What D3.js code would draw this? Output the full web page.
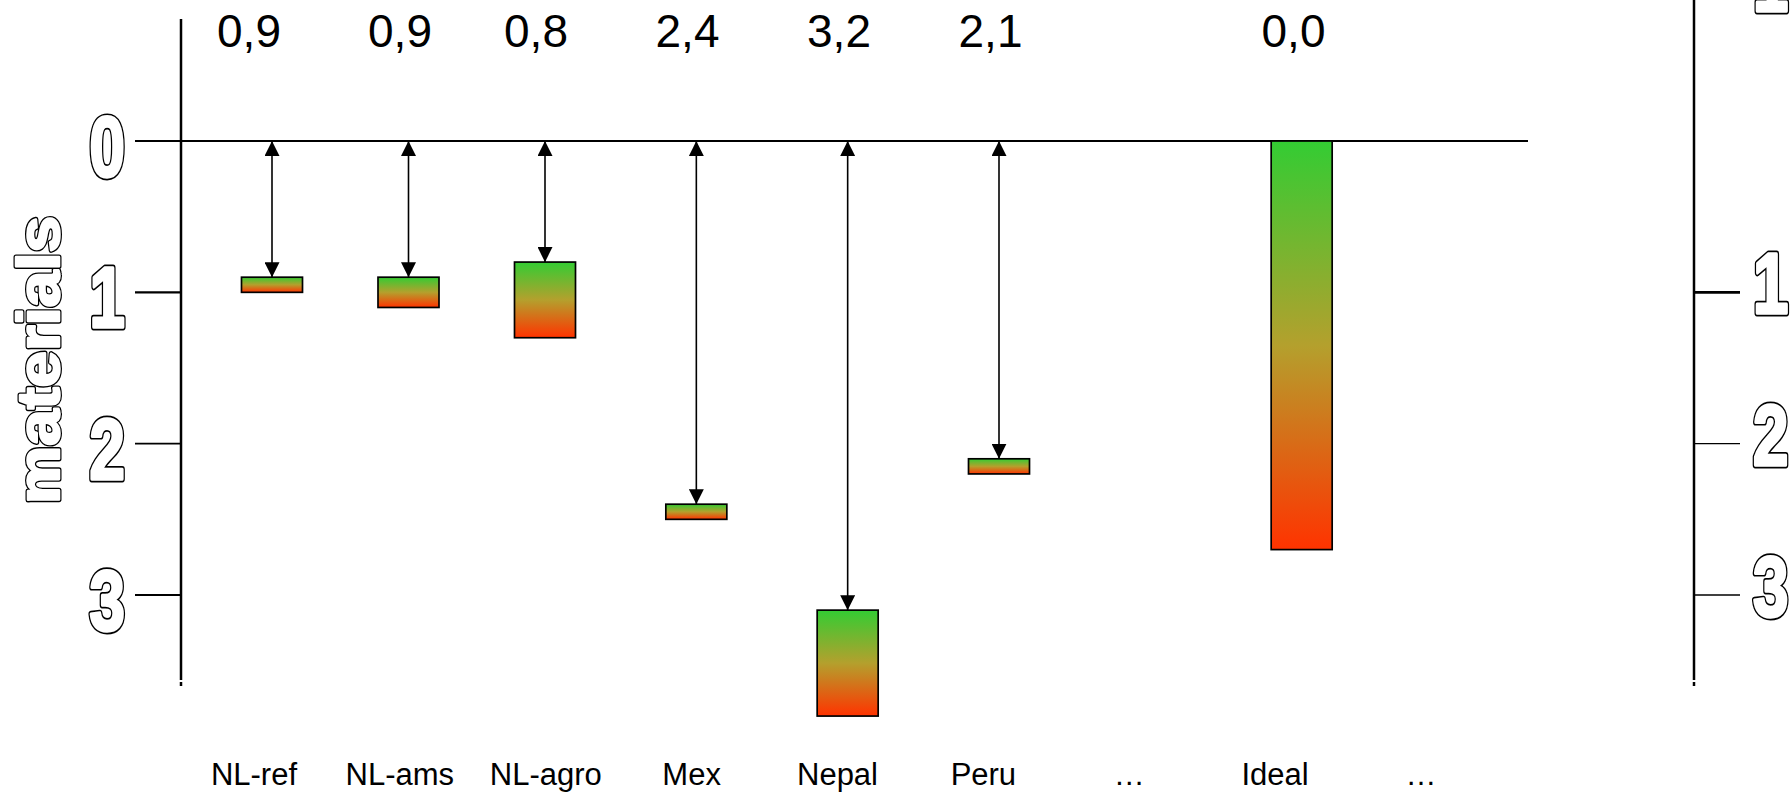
<!DOCTYPE html>
<html>
  <head>
    <style>
      body { margin: 0; background: #ffffff; }
      * { font-family: "Liberation Sans", Arial, sans-serif; }
    </style>
    <script src="https://d3js.org/d3.v7.min.js"></script>
  </head>
  <body>
    <div id="chart-div"></div>
    <script>
      // categories along the bottom; two "…" placeholders keep their own slot
      const categories = ["NL-ref", "NL-ams", "NL-agro", "Mex", "Nepal", "Peru", "…", "Ideal", "…"]
      // number printed above each column
      const scores    = [0.9, 0.9, 0.8, 2.4, 3.2, 2.1, null, 0.0, null]
      // bar range (top = where the arrow stops, bottom = end of the bar)
      const barTop    = [0.9, 0.9, 0.8, 2.4, 3.1, 2.1, null, 0.0, null]
      const barBottom = [1.0, 1.1, 1.3, 2.5, 3.8, 2.2, null, 2.7, null]

      const leftTicks = [0, 1, 2, 3]
      const leftTickLabels = ["0", "1", "2", "3"]
      const rightTicks = [-1, 1, 2, 3]
      const rightTickLabels = ["1", "1", "2", "3"]
      const axisTitle = "materials"

      var w = 1792, h = 795

      var svg = d3.select("#chart-div")
        .append("svg")
        .attr("width", w)
        .attr("height", h)
        .style("display", "block")

      // the three NL columns sit a bit closer together than the rest
      var x = d3.scaleLinear()
        .domain([0, 2, categories.length - 1])
        .range([272, 545, 1453])

      // numbers on top are not quite centred over the columns
      var xScore = d3.scaleLinear()
        .domain([0, 1, 2, categories.length - 1])
        .range([249, 400, 536, 1445])

      var xLabel = d3.scalePoint()
        .domain(d3.range(categories.length))
        .range([254, 1421])

      var y = d3.scaleLinear()
        .domain([0, 3])
        .range([141, 595])

      let barWidth = 61
      let leftAxisX = 181, rightAxisX = 1694, tickLen = 46

      // gradient green -> red, one per bar (bounding box units)
      var defs = svg.append("defs")
      var grad = defs.append("linearGradient")
        .attr("id", "greenRed")
        .attr("x1", 0).attr("y1", 0).attr("x2", 0).attr("y2", 1)
      grad.append("stop").attr("offset", "0%").attr("stop-color", "#33cc33")
      grad.append("stop").attr("offset", "50%").attr("stop-color", "#b4a02d")
      grad.append("stop").attr("offset", "100%").attr("stop-color", "#ff3300")

      defs.append("marker")
        .attr("id", "head")
        .attr("viewBox", "0 0 15 15")
        .attr("refX", 15).attr("refY", 7.5)
        .attr("markerWidth", 15).attr("markerHeight", 15)
        .attr("markerUnits", "userSpaceOnUse")
        .attr("orient", "auto-start-reverse")
        .append("path")
        .attr("d", "M0,0 L15,7.5 L0,15 Z")
        .style("fill", "#000")

      // outlined text: thick black stroke under a white stroke + white fill
      function outlined(g, txt, size, anchor, sx, blackW, whiteW, extra) {
        let t = g.append("g").attr("transform", "scale(" + sx + ",1)")
        ;[["#000", blackW], ["#fff", whiteW]].forEach(function(p) {
          let el = t.append("text")
            .text(txt)
            .attr("text-anchor", anchor)
            .style("font-size", size + "px")
            .style("font-weight", "bold")
            .style("fill", p[0])
            .style("stroke", p[0])
            .style("stroke-width", p[1])
            .style("stroke-linejoin", "round")
            .attr("vector-effect", "non-scaling-stroke")
          if (extra) extra(el)
        })
      }

      // axis lines (with the little stub under each)
      ;[leftAxisX, rightAxisX].forEach(function(ax) {
        svg.append("line")
          .attr("x1", ax).attr("x2", ax)
          .attr("y1", ax == leftAxisX ? 19 : 0).attr("y2", 680)
          .style("stroke", "#000").style("stroke-width", 2.5)
        svg.append("line")
          .attr("x1", ax).attr("x2", ax)
          .attr("y1", 682).attr("y2", 686)
          .style("stroke", "#000").style("stroke-width", 2.5)
      })

      // zero line
      svg.append("line")
        .attr("x1", leftAxisX - tickLen).attr("x2", 1528)
        .attr("y1", y(0)).attr("y2", y(0))
        .style("stroke", "#000").style("stroke-width", 2)

      // left ticks + labels
      leftTicks.forEach(function(v, i) {
        if (v != 0) {
          svg.append("line")
            .attr("x1", leftAxisX - tickLen).attr("x2", leftAxisX)
            .attr("y1", y(v)).attr("y2", y(v))
            .style("stroke", "#000").style("stroke-width", v == 1 ? 2.2 : 1.8)
        }
        let g = svg.append("g").attr("transform", "translate(125," + (y(v) + 35) + ")")
        outlined(g, leftTickLabels[i], 86, "end", 0.74, 6, 3)
      })

      // right ticks + labels
      rightTicks.forEach(function(v, i) {
        svg.append("line")
          .attr("x1", rightAxisX).attr("x2", rightAxisX + tickLen)
          .attr("y1", y(v)).attr("y2", y(v))
          .style("stroke", "#000").style("stroke-width", v == 1 ? 2.6 : 1.4)
        let g = svg.append("g").attr("transform", "translate(1753," + (y(v) + 21) + ")")
        outlined(g, rightTickLabels[i], 86, "start", 0.74, 6, 3)
      })

      // axis title
      var tg = svg.append("g").attr("transform", "translate(59,360) rotate(-90)")
      outlined(tg, axisTitle, 60, "middle", 1, 5, 2.5, function(el) {
        el.attr("textLength", 288).attr("lengthAdjust", "spacingAndGlyphs")
      })

      var idx = d3.range(categories.length).filter(i => barBottom[i] != null)

      // bars
      svg.selectAll(".bar")
        .data(idx)
        .enter()
        .append("rect")
        .attr("class", "bar")
        .attr("x", i => x(i) - barWidth / 2)
        .attr("y", i => y(barTop[i]))
        .attr("width", barWidth)
        .attr("height", i => y(barBottom[i]) - y(barTop[i]))
        .style("fill", "url(#greenRed)")
        .style("stroke", "#000")
        .style("stroke-width", 1.7)

      // double arrows from zero line to top of bar
      svg.selectAll(".arrow")
        .data(idx.filter(i => barTop[i] > 0))
        .enter()
        .append("line")
        .attr("class", "arrow")
        .attr("x1", i => x(i)).attr("x2", i => x(i))
        .attr("y1", y(0)).attr("y2", i => y(barTop[i]))
        .attr("marker-start", "url(#head)")
        .attr("marker-end", "url(#head)")
        .style("stroke", "#000")
        .style("stroke-width", 1.6)

      // score labels on top
      svg.selectAll(".score")
        .data(idx.filter(i => scores[i] != null))
        .enter()
        .append("text")
        .attr("class", "score")
        .attr("x", i => xScore(i))
        .attr("y", 47)
        .attr("text-anchor", "middle")
        .style("font-size", "46px")
        .style("fill", "#000")
        .text(i => d3.format(".1f")(scores[i]).replace(".", ","))

      // category labels at bottom
      svg.selectAll(".cat")
        .data(d3.range(categories.length))
        .enter()
        .append("text")
        .attr("class", "cat")
        .attr("x", i => xLabel(i))
        .attr("y", 785)
        .attr("text-anchor", "middle")
        .style("font-size", "31px")
        .style("fill", "#000")
        .text(i => categories[i])
    </script>
  </body>
</html>
